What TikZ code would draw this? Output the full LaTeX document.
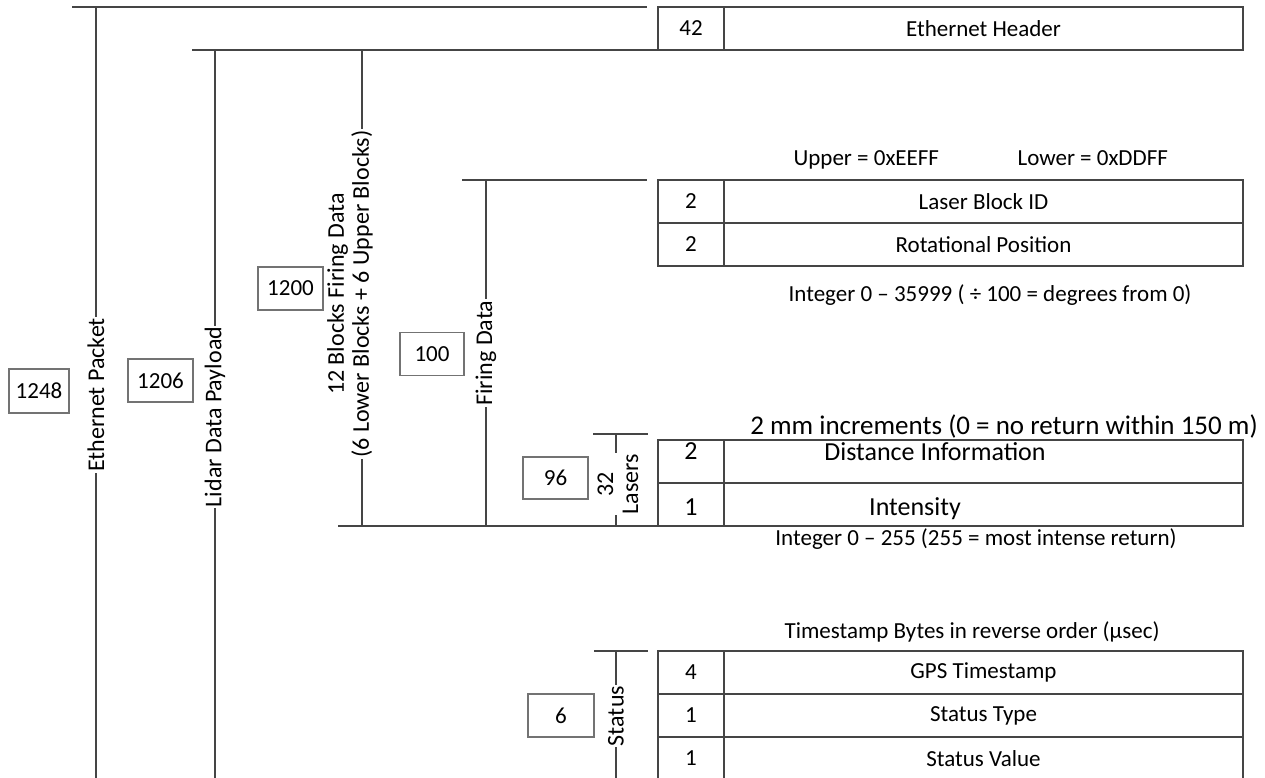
\documentclass[tikz,border=0pt]{standalone}
\usepackage{fontspec}
\setmainfont{Carlito}
\usepackage{tikz}
\usetikzlibrary{positioning}
\definecolor{linegray}{rgb}{0.27,0.27,0.27}
\definecolor{boxgray}{rgb}{0.45,0.45,0.45}
\newcommand\smallf{\fontsize{23}{25}\selectfont}
\newcommand\vertf{\fontsize{24}{25}\selectfont}
\newcommand\midf{\fontsize{26}{28}\selectfont}
\newcommand\bigf{\fontsize{27}{29}\selectfont}

\begin{document}
\begin{tikzpicture}[x=1pt,y=-1pt,line width=1.2pt,
  numcell/.style={draw=linegray,minimum width=66pt,minimum height=43pt,inner sep=0pt,outer sep=0pt,font=\smallf},
  namecell/.style={draw=linegray,minimum width=519pt,minimum height=43pt,inner sep=0pt,outer sep=0pt,font=\smallf},
  sizebox/.style={draw=boxgray,minimum width=65pt,minimum height=43pt,inner sep=0pt,font=\smallf},
  vlabel/.style={rotate=90,fill=white,inner sep=1pt,align=center,font=\vertf},
  note/.style={font=\smallf,inner sep=0pt,anchor=base},
  bignote/.style={font=\midf,inner sep=0pt,anchor=base}]
\useasboundingbox (0,0) rectangle (1265,778);
% bracket ends
\coordinate (pktL) at (72,7); \coordinate (pktR) at (647,7);
\coordinate (pktT) at (96,7); \coordinate (pktB) at (96,790);
\coordinate (payL) at (192,50);
\coordinate (payT) at (215,50); \coordinate (payB) at (215,790);
\coordinate (blkT) at (362,50); \coordinate (blkB) at (362,526);
\coordinate (botL) at (338,526);
\coordinate (fdL) at (462,180); \coordinate (fdR) at (647,180);
\coordinate (fdT) at (486,180); \coordinate (fdB) at (486,526);
\coordinate (lasL) at (593,434); \coordinate (lasR) at (648,434);
\coordinate (lasT) at (616,434); \coordinate (lasB) at (616,526);
\coordinate (stL) at (594,651); \coordinate (stR) at (648,651);
\coordinate (stT) at (616,651); \coordinate (stB) at (616,790);
% tables
\node[numcell,anchor=north west] (hdrN) at (658,7) {42};
\node[namecell,right=0pt of hdrN] (hdr) {Ethernet Header};
\node[numcell,anchor=north west] (idN) at (658,180) {2};
\node[namecell,right=0pt of idN] (id) {Laser Block ID};
\node[numcell,below=0pt of idN] (rotN) {2};
\node[namecell,right=0pt of rotN] (rot) {Rotational Position};
\node[numcell,anchor=north west] (distN) at (658,440) {};
\node[namecell,right=0pt of distN] (dist) {};
\node[numcell,below=0pt of distN] (intN) {};
\node[namecell,right=0pt of intN] (int) {};
\node[numcell,anchor=north west] (gpsN) at (658,651) {4};
\node[namecell,right=0pt of gpsN] (gps) {GPS Timestamp};
\node[numcell,below=0pt of gpsN] (typN) {1};
\node[namecell,right=0pt of typN] (typ) {Status Type};
\node[numcell,below=0pt of typN] (valN) {1};
\node[namecell,right=0pt of valN] (val) {Status Value};
\node[bignote] (distV) at (691,459) {2};
\node[bignote] (distT) at (935,460) {Distance Information};
\node[bignote] (intV) at (691,515) {1};
\node[bignote] (intT) at (915,515) {Intensity};
% brackets
\draw[linegray] (pktL) -- (pktR);
\draw[linegray] (pktT) -- (pktB);
\draw[linegray] (payL) -- (hdrN.south west);
\draw[linegray] (payT) -- (payB);
\draw[linegray] (blkT) -- (blkB);
\draw[linegray] (botL) -- (intN.south west);
\draw[linegray] (fdL) -- (fdR);
\draw[linegray] (fdT) -- (fdB);
\draw[linegray] (lasL) -- (lasR);
\draw[linegray] (lasT) -- (lasB);
\draw[linegray] (stL) -- (stR);
\draw[linegray] (stT) -- (stB);
% labels
\node[vlabel] (pktLbl) at (96,395) {Ethernet Packet};
\node[vlabel] (payLbl) at (215,417) {Lidar Data Payload};
\node[vlabel] (blkLbl) at (350,294) {12 Blocks Firing Data\\(6 Lower Blocks + 6 Upper Blocks)};
\node[vlabel] (fdLbl) at (486,353) {Firing Data};
\node[vlabel] (lasLbl) at (618,484) {32\\Lasers};
\node[vlabel] (stLbl) at (616,716) {Status};
% sizes
\node[sizebox,minimum width=60pt,minimum height=44pt] (n1248) at (39,391) {1248};
\node[sizebox] (n1206) at (160.5,380.5) {1206};
\node[sizebox] (n1200) at (290.5,288.5) {1200};
\node[sizebox,minimum width=64pt] (n100) at (432,354) {100};
\node[sizebox,minimum height=42pt] (n96) at (555.5,478) {96};
\node[sizebox,minimum width=66pt] (n6) at (561,715.5) {6};
% notes
\node[note,anchor=base west] (upNote) at (793,166) {Upper = 0xEEFF};
\node[note,anchor=base west] (lowNote) at (1017,166) {Lower = 0xDDFF};
\node[note] (rotNote) at (990,301) {Integer 0 – 35999 ( ÷ 100 = degrees from 0)};
\node[bignote,font=\bigf] (distNote) at (1004,434) {2 mm increments (0 = no return within 150 m)};
\node[note] (intNote) at (976,545) {Integer 0 – 255 (255 = most intense return)};
\node[note] (gpsNote) at (972,638) {Timestamp Bytes in reverse order (µsec)};
\end{tikzpicture}
\end{document}
